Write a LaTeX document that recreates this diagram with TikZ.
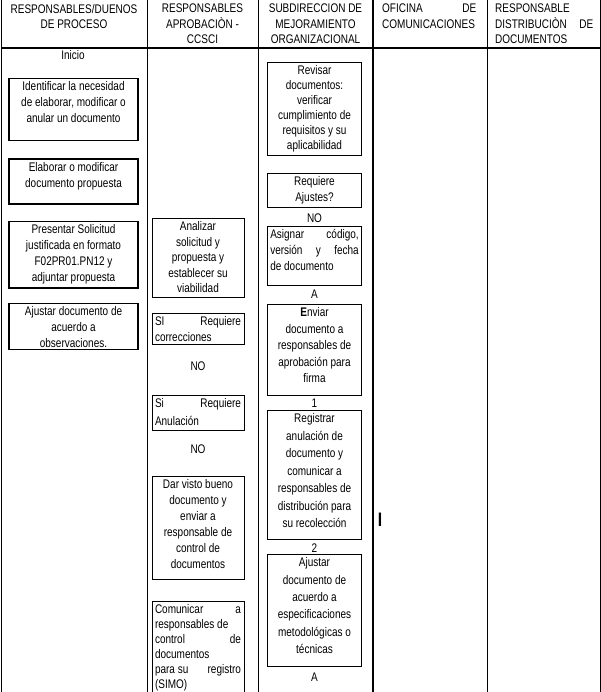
\documentclass[tikz,border=0pt]{standalone}
\usepackage{fontspec}
\setmainfont{Liberation Sans}[FakeStretch=0.8]
\usetikzlibrary{positioning}

% cell text, top aligned: {width}{box height}{text}
\newcommand{\ctop}[3]{\parbox[c][\dimexpr#2pt-6pt\relax][t]{#1}{\centering #3}}
\newcommand{\ltop}[3]{\parbox[c][\dimexpr#2pt-6pt\relax][t]{#1}{\raggedright #3}}

\begin{document}
\begin{tikzpicture}[
  x=1pt, y=-1pt,
  lane/.style={line width=1pt},
  lanebold/.style={line width=2pt},
  hdr/.style={inner sep=0pt, anchor=north, align=center, font=\fontsize{12.5}{15.5}\selectfont},
  hdrj/.style={hdr, anchor=north west, align=left, text width=#1},
  actbox/.style={draw, line width=1pt, inner xsep=3pt, inner ysep=3pt, font=\fontsize{12.5}{16}\selectfont},
  procbox/.style={actbox, line width=1.5pt},
  lbl/.style={inner sep=0pt, font=\fontsize{12.5}{14}\selectfont}
]
\useasboundingbox (0,0) rectangle (601,692);
% ---- lanes ----
\draw[lane] (1,0) -- (1,692);
\draw[lane] (147,0) -- (147,692);
\draw[lane] (258,0) -- (258,692);
\draw[lanebold] (373,0) -- (373,692);
\draw[lane] (487,0) -- (487,692);
\draw[lane] (600,0) -- (600,692);
\draw[lanebold] (1,48) -- (600,48);
% ---- headers ----
\node[hdr] (h1) at (74,4) {RESPONSABLES/DUENOS\\DE PROCESO};
\node[hdr] (h2) at (202.5,4) {RESPONSABLES\\APROBACIÒN -\\CCSCI};
\node[hdr] (h3) at (315.5,4) {SUBDIRECCION DE\\MEJORAMIENTO\\ORGANIZACIONAL};
\node[hdrj=94pt] (h4) at (382,4) {OFICINA\hfill DE\\COMUNICACIONES};
\node[hdrj=98pt] (h5) at (495,4) {RESPONSABLE\\DISTRIBUCIÒN\hfill DE\\DOCUMENTOS};
% ---- responsables / duenos de proceso ----
\node[lbl] (ini) at (73,55.5) {Inicio};
\node[procbox, anchor=north] (b1) at (73.5,78) {\ctop{123pt}{62}{Identificar la necesidad\\de elaborar, modificar o\\anular un documento}};
\node[procbox, below=17pt of b1] (b2) {\ctop{123pt}{45}{Elaborar o modificar\\documento propuesta}};
\node[procbox, below=16pt of b2] (b3) {\ctop{123pt}{66}{Presentar Solicitud\\justificada en formato\\F02PR01.PN12 y\\adjuntar propuesta}};
\node[procbox, below=14pt of b3] (b4) {\ctop{123pt}{46}{Ajustar documento de\\acuerdo a\\observaciones.}};
% ---- responsables aprobacion ----
\node[actbox, anchor=north, font=\fontsize{12.5}{15.5}\selectfont] (c1) at (198,218) {\ctop{86pt}{79}{Analizar\\solicitud y\\propuesta y\\establecer su\\viabilidad}};
\node[actbox, below=15pt of c1] (c2) {\ltop{86pt}{31}{SI\hfill Requiere\\correcciones}};
\node[lbl, below=17pt of c2] (no1) {NO};
\node[actbox, below=24pt of no1, font=\fontsize{12.5}{18}\selectfont] (c3) {\ltop{86pt}{35}{Si\hfill Requiere\\Anulación}};
\node[lbl, below=13pt of c3] (no2) {NO};
\node[actbox, below=22pt of no2] (c4) {\ctop{86pt}{103}{Dar visto bueno\\documento y\\enviar a\\responsable de\\control de\\documentos}};
\node[actbox, below=21pt of c4, font=\fontsize{12.5}{15}\selectfont] (c5) {\ltop{86pt}{94}{Comunicar\hfill a\\responsables de\\control\hfill de\\documentos\\para su\hfill registro\\(SIMO)}};
% ---- subdireccion de mejoramiento ----
\node[actbox, anchor=north, font=\fontsize{12.5}{15}\selectfont] (d1) at (314.5,62) {\ctop{88.5pt}{93}{Revisar\\documentos:\\verificar\\cumplimiento de\\requisitos y su\\aplicabilidad}};
\node[actbox, below=17pt of d1] (d2) {\ctop{88.5pt}{34}{Requiere\\Ajustes?}};
\node[lbl, below=6pt of d2] (no3) {NO};
\node[actbox, below=3pt of no3] (d3) {\ltop{88.5pt}{59}{Asignar\hfill código,\\versión\hfill y\hfill fecha\\de documento}};
\node[lbl, below=3pt of d3] (a1) {A};
\node[actbox, below=6pt of a1, font=\fontsize{12.5}{16.5}\selectfont] (d4) {\ctop{88.5pt}{91}{\textbf{E}nviar\\documento a\\responsables de\\aprobación para\\firma}};
\node[lbl, below=2pt of d4] (one) {1};
\node[actbox, below=3pt of one, font=\fontsize{12.5}{17.5}\selectfont] (d5) {\ctop{88.5pt}{129}{Registrar\\anulación de\\documento y\\comunicar a\\responsables de\\distribución para\\su recolección}};
\node[lbl, below=3pt of d5] (two) {2};
\node[actbox, below=2pt of two, font=\fontsize{12.5}{17.3}\selectfont] (d6) {\ctop{88.5pt}{112}{Ajustar\\documento de\\acuerdo a\\especificaciones\\metodológicas o\\técnicas}};
\node[lbl, below=5pt of d6] (a2) {A};
% ---- oficina de comunicaciones ----
\node[lbl, font=\fontsize{19.5}{20}\selectfont\bfseries] (mark) at (380,520) {I};
\end{tikzpicture}
\end{document}
